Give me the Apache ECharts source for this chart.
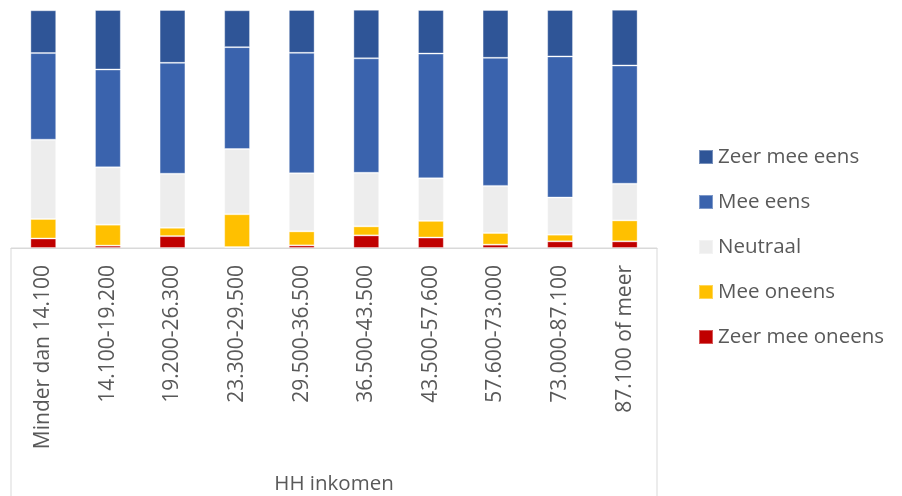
<!DOCTYPE html>
<html>
<head>
<meta charset="utf-8">
<script src="https://cdn.jsdelivr.net/npm/echarts@6/dist/echarts.min.js"></script>
<style>
  html, body { margin: 0; padding: 0; background: #fff; }
  #chart { width: 902px; height: 496px; }
</style>
</head>
<body>
<div id="chart"></div>
<script>
var categories = ['Minder dan 14.100', '14.100-19.200', '19.200-26.300', '23.300-29.500', '29.500-36.500',
  '36.500-43.500', '43.500-57.600', '57.600-73.000', '73.000-87.100', '87.100 of meer'];

// percentages per category, bottom to top
var zeerMeeOneens = [4.0, 1.0, 5.0, 0.4, 1.1, 5.3, 4.4, 1.4, 2.8, 2.8];
var meeOneens     = [8.2, 8.8, 3.5, 13.8, 5.9, 3.8, 7.0, 4.9, 2.8, 8.8];
var neutraal      = [33.3, 24.1, 22.7, 27.4, 24.4, 22.5, 17.9, 19.8, 15.6, 15.4];
var meeEens       = [36.4, 41.1, 46.6, 42.8, 50.6, 48.1, 52.4, 53.8, 59.3, 49.7];
var zeerMeeEens   = [18.0, 25.0, 22.2, 15.5, 18.0, 20.4, 18.3, 20.1, 19.5, 23.4];

var font = '"Open Sans", Lato, sans-serif';
var textColor = '#595959';

function bar(name, data, color) {
  return {
    name: name,
    type: 'bar',
    stack: 'total',
    data: data,
    barWidth: '40%',
    itemStyle: { color: color, borderColor: 'rgba(255,255,255,0.35)', borderWidth: 1 }
  };
}

var chart = echarts.init(document.getElementById('chart'));
chart.setOption({
  animation: false,
  textStyle: { fontFamily: font },
  grid: { left: 11, right: 245, top: 10, bottom: 248, containLabel: false, outerBoundsMode: 'none' },
  legend: {
    orient: 'vertical',
    left: 693,
    top: 140,
    itemWidth: 14,
    itemHeight: 14,
    itemGap: 21,
    icon: 'rect',
    data: ['Zeer mee eens', 'Mee eens', 'Neutraal', 'Mee oneens', 'Zeer mee oneens'],
    textStyle: { color: textColor, fontSize: 20.5, lineHeight: 24, fontFamily: font }
  },
  xAxis: {
    type: 'category',
    data: categories,
    name: 'HH inkomen',
    nameLocation: 'middle',
    nameGap: 226,
    nameTextStyle: { color: textColor, fontSize: 20.5, fontFamily: font },
    axisLine: { show: true, lineStyle: { color: '#d9d9d9', width: 1 } },
    axisTick: { show: false },
    axisLabel: { rotate: 90, color: textColor, fontSize: 21, fontFamily: font, margin: 17 }
  },
  yAxis: {
    type: 'value',
    min: 0,
    max: 100,
    show: false,
    splitLine: { show: false }
  },
  graphic: [{
    type: 'rect',
    shape: { x: 11, y: 248, width: 646, height: 260 },
    style: { fill: 'none', stroke: '#d9d9d9', lineWidth: 1 },
    silent: true,
    z: -1
  }],
  series: [
    bar('Zeer mee oneens', zeerMeeOneens, '#C00000'),
    bar('Mee oneens', meeOneens, '#FFC000'),
    bar('Neutraal', neutraal, '#EDEDED'),
    bar('Mee eens', meeEens, '#3A63AD'),
    bar('Zeer mee eens', zeerMeeEens, '#2F5597')
  ]
});
</script>
</body>
</html>
